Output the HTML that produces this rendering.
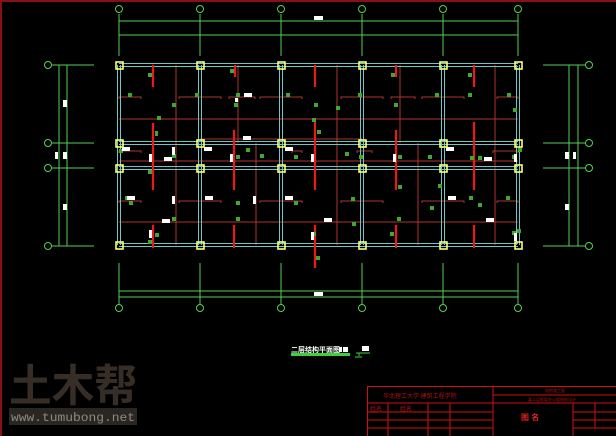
<!DOCTYPE html>
<html><head><meta charset="utf-8"><style>
html,body{margin:0;padding:0;background:#000;width:616px;height:436px;overflow:hidden}
svg{display:block}
</style></head><body>
<svg width="616" height="436" viewBox="0 0 616 436" xmlns="http://www.w3.org/2000/svg" font-family="Liberation Sans, Noto Sans CJK SC, sans-serif">
<rect width="616" height="436" fill="#000"/>
<line x1="0" y1="1" x2="616" y2="1" stroke="#8a1010" stroke-width="2"/>
<line x1="1" y1="0" x2="1" y2="436" stroke="#8a1010" stroke-width="2"/>

<g stroke="#55d055" stroke-width="1" fill="none">
<line x1="119" y1="14" x2="119" y2="56"/><line x1="200" y1="14" x2="200" y2="56"/><line x1="281" y1="14" x2="281" y2="56"/><line x1="362" y1="14" x2="362" y2="56"/><line x1="443" y1="14" x2="443" y2="56"/><line x1="518" y1="14" x2="518" y2="56"/>
<line x1="119" y1="21" x2="518" y2="21"/><line x1="119" y1="35" x2="518" y2="35"/>
<circle cx="119" cy="9" r="3.5"/><circle cx="200" cy="9" r="3.5"/><circle cx="281" cy="9" r="3.5"/><circle cx="362" cy="9" r="3.5"/><circle cx="443" cy="9" r="3.5"/><circle cx="518" cy="9" r="3.5"/>
<line x1="119" y1="263" x2="119" y2="304"/><line x1="200" y1="263" x2="200" y2="304"/><line x1="281" y1="263" x2="281" y2="304"/><line x1="362" y1="263" x2="362" y2="304"/><line x1="443" y1="263" x2="443" y2="304"/><line x1="518" y1="263" x2="518" y2="304"/>
<line x1="119" y1="291" x2="518" y2="291"/><line x1="119" y1="297" x2="518" y2="297"/>
<circle cx="119" cy="308" r="3.5"/><circle cx="200" cy="308" r="3.5"/><circle cx="281" cy="308" r="3.5"/><circle cx="362" cy="308" r="3.5"/><circle cx="443" cy="308" r="3.5"/><circle cx="518" cy="308" r="3.5"/>
<line x1="52" y1="65" x2="94" y2="65"/><line x1="52" y1="143" x2="94" y2="143"/><line x1="52" y1="168" x2="94" y2="168"/><line x1="52" y1="246" x2="94" y2="246"/>
<line x1="59" y1="65" x2="59" y2="246"/><line x1="67" y1="65" x2="67" y2="246"/>
<circle cx="48" cy="65" r="3.5"/><circle cx="48" cy="143" r="3.5"/><circle cx="48" cy="168" r="3.5"/><circle cx="48" cy="246" r="3.5"/>
<line x1="543" y1="65" x2="585" y2="65"/><line x1="543" y1="143" x2="585" y2="143"/><line x1="543" y1="168" x2="585" y2="168"/><line x1="543" y1="246" x2="585" y2="246"/>
<line x1="569" y1="65" x2="569" y2="246"/><line x1="578" y1="65" x2="578" y2="246"/>
<circle cx="589" cy="65" r="3.5"/><circle cx="589" cy="143" r="3.5"/><circle cx="589" cy="168" r="3.5"/><circle cx="589" cy="246" r="3.5"/>
</g>
<g fill="#fff">
<rect x="314" y="16" width="9" height="4"/><rect x="314" y="292" width="9" height="4"/>
<rect x="63" y="100" width="4" height="7"/><rect x="63" y="152" width="4" height="7"/><rect x="55" y="152" width="3" height="7"/><rect x="63" y="204" width="4" height="6"/>
<rect x="565" y="152" width="4" height="7"/><rect x="573" y="152" width="3" height="7"/><rect x="565" y="204" width="4" height="6"/>
</g>

<g stroke="#b0342c" stroke-width="1" fill="none">
<line x1="119" y1="119" x2="518" y2="119"/><line x1="119" y1="161" x2="518" y2="161"/><line x1="119" y1="222" x2="518" y2="222"/>
<line x1="176" y1="65" x2="176" y2="245"/><line x1="238" y1="65" x2="238" y2="143"/><line x1="256" y1="143" x2="256" y2="245"/>
<line x1="337" y1="65" x2="337" y2="245"/><line x1="400" y1="65" x2="400" y2="143"/><line x1="418" y1="143" x2="418" y2="245"/><line x1="495" y1="65" x2="495" y2="245"/>
<line x1="200" y1="139" x2="362" y2="139"/>
<path d="M119 99V97H141V99M179 99V97H221V99M229 99V97H255V99M260 99V97H302V99M341 99V97H383V99M391 99V97H415V99M422 99V97H464V99M497 99V97H518V99"/>
<path d="M119 203V201H141V203M179 203V201H221V203M260 203V201H302V203M341 203V201H383V203M422 203V201H464V203M497 203V201H518V203"/>
<path d="M119 153V151H141V153M292 153V151H302V153M357 153V151H372V153M493 153V151H518V153"/>
</g>

<g stroke="#6cc8c8" stroke-width="1" fill="none">
<line x1="119" y1="63.5" x2="518" y2="63.5"/><line x1="119" y1="66.5" x2="518" y2="66.5"/>
<line x1="119" y1="141.5" x2="518" y2="141.5"/><line x1="119" y1="144.5" x2="518" y2="144.5"/>
<line x1="119" y1="166.5" x2="518" y2="166.5"/><line x1="119" y1="169.5" x2="518" y2="169.5"/>
<line x1="119" y1="243.5" x2="518" y2="243.5"/><line x1="119" y1="246.5" x2="518" y2="246.5"/>
<line x1="117.5" y1="65" x2="117.5" y2="245"/><line x1="120.5" y1="65" x2="120.5" y2="245"/>
<line x1="198.5" y1="65" x2="198.5" y2="245"/><line x1="201.5" y1="65" x2="201.5" y2="245"/>
<line x1="279.5" y1="65" x2="279.5" y2="245"/><line x1="282.5" y1="65" x2="282.5" y2="245"/>
<line x1="360.5" y1="65" x2="360.5" y2="245"/><line x1="363.5" y1="65" x2="363.5" y2="245"/>
<line x1="441.5" y1="65" x2="441.5" y2="245"/><line x1="444.5" y1="65" x2="444.5" y2="245"/>
<line x1="516.5" y1="65" x2="516.5" y2="245"/><line x1="519.5" y1="65" x2="519.5" y2="245"/>
</g>

<g stroke="#ee1818" stroke-width="2.2" fill="none">
<path d="M153 65V87M153 123V190M153 225V248"/>
<path d="M235 65V77M234 130V190M234 225V248"/>
<path d="M315 65V87M315 122V190M315 225V268"/>
<path d="M396 65V77M396 130V190M396 225V248"/>
<path d="M474 65V87M474 122V190M474 225V248"/>
</g>

<g fill="#3fa82e">
<rect x="148" y="73" width="4" height="4"/><rect x="128" y="93" width="4" height="4"/><rect x="172" y="103" width="4" height="4"/><rect x="195" y="93" width="4" height="4"/><rect x="157" y="116" width="4" height="4"/><rect x="155" y="131" width="3" height="5"/><rect x="148" y="170" width="4" height="4"/><rect x="172" y="154" width="4" height="4"/><rect x="119" y="149" width="4" height="4"/><rect x="125" y="196" width="4" height="4"/><rect x="129" y="201" width="4" height="4"/><rect x="172" y="217" width="4" height="4"/><rect x="155" y="233" width="4" height="4"/><rect x="148" y="240" width="4" height="4"/>
<rect x="230" y="69" width="4" height="4"/><rect x="236" y="93" width="4" height="4"/><rect x="246" y="148" width="4" height="4"/><rect x="236" y="155" width="4" height="4"/><rect x="234" y="103" width="4" height="4"/><rect x="236" y="217" width="4" height="4"/><rect x="236" y="201" width="4" height="4"/><rect x="260" y="154" width="4" height="4"/>
<rect x="286" y="93" width="4" height="4"/><rect x="312" y="118" width="4" height="4"/><rect x="314" y="103" width="4" height="4"/><rect x="294" y="155" width="4" height="4"/><rect x="286" y="196" width="4" height="4"/><rect x="294" y="201" width="4" height="4"/><rect x="312" y="232" width="4" height="4"/><rect x="316" y="256" width="4" height="4"/>
<rect x="317" y="130" width="4" height="4"/><rect x="336" y="106" width="4" height="4"/><rect x="345" y="152" width="4" height="4"/><rect x="358" y="93" width="4" height="4"/><rect x="359" y="155" width="4" height="4"/><rect x="394" y="103" width="4" height="4"/><rect x="391" y="73" width="4" height="4"/><rect x="398" y="155" width="4" height="4"/><rect x="398" y="185" width="4" height="4"/><rect x="390" y="232" width="4" height="4"/><rect x="397" y="217" width="4" height="4"/><rect x="351" y="197" width="4" height="4"/><rect x="352" y="222" width="4" height="4"/>
<rect x="428" y="155" width="4" height="4"/><rect x="435" y="93" width="4" height="4"/><rect x="430" y="206" width="4" height="4"/><rect x="438" y="184" width="4" height="4"/><rect x="468" y="73" width="4" height="4"/><rect x="468" y="93" width="4" height="4"/><rect x="470" y="156" width="4" height="4"/><rect x="469" y="196" width="4" height="4"/><rect x="478" y="156" width="4" height="4"/><rect x="478" y="203" width="4" height="4"/><rect x="507" y="93" width="4" height="4"/><rect x="513" y="108" width="4" height="4"/><rect x="512" y="155" width="4" height="4"/><rect x="506" y="196" width="4" height="4"/><rect x="512" y="231" width="4" height="4"/><rect x="518" y="148" width="4" height="4"/><rect x="517" y="229" width="4" height="4"/>
</g>

<g fill="#fff">
<rect x="244" y="93" width="8" height="4"/><rect x="235" y="98" width="3" height="4"/><rect x="243" y="136" width="8" height="4"/>
<rect x="122" y="147" width="8" height="4"/><rect x="149" y="154" width="3" height="8"/><rect x="164" y="157" width="8" height="4"/><rect x="172" y="147" width="3" height="8"/><rect x="204" y="147" width="8" height="4"/><rect x="230" y="154" width="3" height="8"/><rect x="285" y="147" width="8" height="4"/><rect x="311" y="154" width="3" height="8"/>
<rect x="127" y="196" width="8" height="4"/><rect x="172" y="196" width="3" height="8"/><rect x="205" y="196" width="8" height="4"/><rect x="162" y="219" width="8" height="4"/><rect x="149" y="230" width="3" height="8"/><rect x="253" y="196" width="3" height="8"/><rect x="285" y="196" width="8" height="4"/><rect x="324" y="218" width="8" height="4"/><rect x="311" y="232" width="3" height="8"/>
<rect x="446" y="147" width="8" height="4"/><rect x="393" y="154" width="3" height="8"/><rect x="484" y="157" width="8" height="4"/><rect x="448" y="196" width="8" height="4"/>
<rect x="486" y="218" width="8" height="4"/><rect x="514" y="154" width="3" height="8"/><rect x="514" y="233" width="3" height="8"/>
</g>

<g stroke="#ffff70" stroke-width="1.6" fill="none">
<rect x="116" y="62" width="7" height="7"/><rect x="197" y="62" width="7" height="7"/><rect x="278" y="62" width="7" height="7"/><rect x="359" y="62" width="7" height="7"/><rect x="440" y="62" width="7" height="7"/><rect x="515" y="62" width="7" height="7"/>
<rect x="116" y="140" width="7" height="7"/><rect x="197" y="140" width="7" height="7"/><rect x="278" y="140" width="7" height="7"/><rect x="359" y="140" width="7" height="7"/><rect x="440" y="140" width="7" height="7"/><rect x="515" y="140" width="7" height="7"/>
<rect x="116" y="165" width="7" height="7"/><rect x="197" y="165" width="7" height="7"/><rect x="278" y="165" width="7" height="7"/><rect x="359" y="165" width="7" height="7"/><rect x="440" y="165" width="7" height="7"/><rect x="515" y="165" width="7" height="7"/>
<rect x="116" y="242" width="7" height="7"/><rect x="197" y="242" width="7" height="7"/><rect x="278" y="242" width="7" height="7"/><rect x="359" y="242" width="7" height="7"/><rect x="440" y="242" width="7" height="7"/><rect x="515" y="242" width="7" height="7"/>
</g>

<text x="291" y="352" font-size="7" fill="#fff" font-weight="bold">二层结构平面图</text>
<rect x="291" y="353" width="59" height="3" fill="#3bd33b"/>
<rect x="339" y="347" width="3" height="5" fill="#fff"/><rect x="343" y="347" width="5" height="5" fill="#fff"/>
<rect x="362" y="346" width="7" height="5" fill="#fff"/>
<path d="M356 353H370M359 353V356M355 357H362" stroke="#3bd33b" fill="none"/>

<text x="9" y="401" font-size="44" fill="#352d26" font-weight="bold" textLength="128" lengthAdjust="spacingAndGlyphs" font-family="Noto Sans CJK SC, sans-serif">土木帮</text>
<rect x="9" y="408" width="128" height="17" fill="#2a2622"/>
<text x="11" y="421" font-size="12" fill="#8f8a85" textLength="124" lengthAdjust="spacingAndGlyphs" font-family="Liberation Mono, monospace">www.tumubong.net</text>

<g stroke="#d01010" stroke-width="1" fill="none">
<path d="M616 386.5H367.5V436"/>
<line x1="493" y1="386" x2="493" y2="436"/>
<line x1="367" y1="403" x2="616" y2="403"/>
<line x1="493" y1="395" x2="616" y2="395"/>
<line x1="367" y1="412" x2="493" y2="412"/><line x1="367" y1="420" x2="493" y2="420"/><line x1="367" y1="428" x2="493" y2="428"/>
<line x1="388" y1="403" x2="388" y2="436"/><line x1="428" y1="403" x2="428" y2="436"/><line x1="450" y1="403" x2="450" y2="436"/>
<line x1="573" y1="403" x2="573" y2="436"/><line x1="595" y1="403" x2="595" y2="428"/>
<line x1="573" y1="412" x2="616" y2="412"/><line x1="573" y1="420" x2="616" y2="420"/><line x1="573" y1="428" x2="616" y2="428"/>
</g>
<g fill="#b01010" font-size="6">
<text x="383" y="398" font-size="6">华北理工大学 建筑工程学院</text>
<text x="370" y="411" font-size="6">姓名</text><text x="400" y="411" font-size="6">姓名</text>
<text x="545" y="392" font-size="4">结构施工图</text>
<text x="528" y="401" font-size="4">某二层框架办公楼结构设计</text>
<text x="521" y="420" font-size="8" fill="#e02020" font-weight="bold">图 名</text>
</g>
</svg>
</body></html>
